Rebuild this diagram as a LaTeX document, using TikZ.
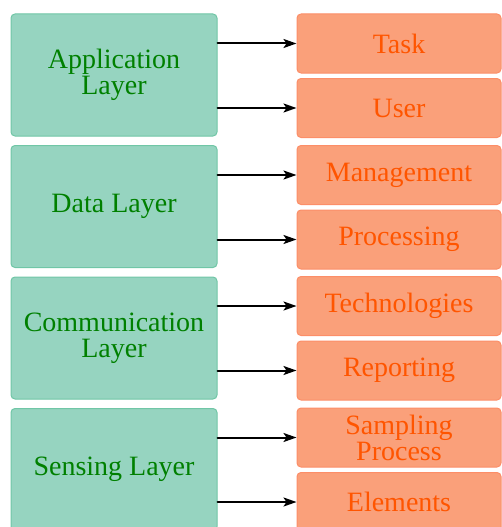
\documentclass[tikz,border=0pt]{standalone}
\usepackage{fontspec}
\setmainfont{LiberationSerif}[Extension=.ttf, UprightFont=*-Regular, BoldFont=*-Bold, ItalicFont=*-Italic, BoldItalicFont=*-BoldItalic]
\usetikzlibrary{arrows.meta}

\definecolor{layerfill}{RGB}{150,212,192}
\definecolor{layerdraw}{RGB}{112,198,166}
\definecolor{layertext}{RGB}{0,128,0}
\definecolor{itemfill}{RGB}{250,160,122}
\definecolor{itemdraw}{RGB}{252,142,104}
\definecolor{itemtext}{RGB}{255,85,0}

\begin{document}
\begin{tikzpicture}[x=1pt,y=1pt,>={Stealth[length=13pt,width=9pt,inset=3pt]}, line cap=round, line join=round,
    layer/.style={draw=layerdraw, fill=layerfill, line width=1pt, rounded corners=4pt,
        minimum width=206pt, minimum height=122pt, inner sep=0pt,
        text=layertext, align=center, font=\fontsize{28}{26}\selectfont},
    item/.style={draw=itemdraw, fill=itemfill, line width=1pt, rounded corners=4pt,
        minimum width=204pt, minimum height=59pt, inner sep=0pt,
        text=itemtext, align=center, font=\fontsize{28}{26}\selectfont},
    link/.style={->, line width=2pt}]
    % canvas
    \useasboundingbox (0,0) rectangle (502,-527);

    % layers on the left
    \node[layer] (app)  at (114,-75)    {Application\\Layer};
    \node[layer] (data) at (114,-206.5) {Data Layer};
    \node[layer] (comm) at (114,-338)   {Communication\\Layer};
    \node[layer] (sens) at (114,-469.5) {Sensing Layer};

    % items on the right
    \node[item] (task)  at (399,-43.5) {Task};
    \node[item] (user)  at (399,-108)  {User};
    \node[item] (mgmt)  at (399,-175)  {Management};
    \node[item] (proc)  at (399,-239.5){Processing};
    \node[item] (tech)  at (399,-306)  {Technologies};
    \node[item] (rep)   at (399,-370.5){Reporting};
    \node[item] (samp)  at (399,-437.5){Sampling\\Process};
    \node[item] (elem)  at (399,-502)  {Elements};

    % connectors
    \foreach \l/\a/\b in {app/task/user, data/mgmt/proc, comm/tech/rep, sens/samp/elem} {
        \draw[link] (\l.east |- \a) -- (\a.west);
        \draw[link] (\l.east |- \b) -- (\b.west);
    }
\end{tikzpicture}
\end{document}
